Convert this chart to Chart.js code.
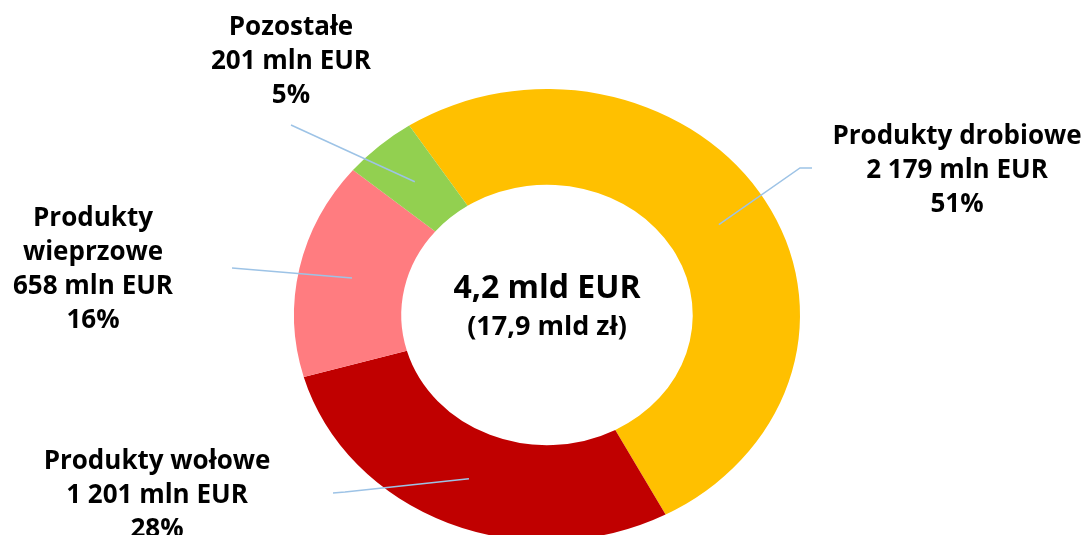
<!DOCTYPE html>
<html lang="pl">
<head>
<meta charset="utf-8">
<title>Eksport mięsa</title>
<script src="https://cdn.jsdelivr.net/npm/chart.js@4/dist/chart.umd.min.js"></script>
<style>
    html, body { margin: 0; padding: 0; background: #fff; }
    #wrap { width: 1086px; height: 535px; overflow: hidden; position: relative; }
</style>
</head>
<body>
<div id="wrap"><canvas id="myChart" width="1086" height="630"></canvas></div>
<script>
// dane
const categories = ['Produkty drobiowe', 'Produkty wołowe', 'Produkty wieprzowe', 'Pozostałe'];
const labelLines = [['Produkty drobiowe'], ['Produkty wołowe'], ['Produkty', 'wieprzowe'], ['Pozostałe']];
const values = [2179, 1201, 658, 201]; // mln EUR
const centerTitle = '4,2 mld EUR';
const centerSubtitle = '(17,9 mld zł)';

// wygląd
const sliceColors = ['#FFC000', '#C00000', '#FF7C80', '#92D050'];
const ySquash = 0.893; // wykres w oryginale jest lekko spłaszczony
// położenie etykiet (środek pierwszej linii) i początek linii odniesienia
const labelLayout = [
    { x: 957, y: 137, leader: [[812, 168], [800, 168]] },
    { x: 157, y: 462, leader: [[333, 493], [345, 492]] },
    { x: 93,  y: 219, leader: [[232, 268]] },
    { x: 291, y: 28,  leader: [[291, 125]] }
];
const lineHeight = 34;

const total = values.reduce((a, b) => a + b, 0);

function fmt(n) {
    return String(n).replace(/\B(?=(\d{3})+(?!\d))/g, ' ');
}

const squashPlugin = {
    id: 'squash',
    beforeDatasetsDraw(chart) {
        const arc = chart.getDatasetMeta(0).data[0];
        const ctx = chart.ctx;
        ctx.save();
        ctx.translate(0, arc.y);
        ctx.scale(1, ySquash);
        ctx.translate(0, -arc.y);
    },
    afterDatasetsDraw(chart) {
        chart.ctx.restore();
    }
};

const labelsPlugin = {
    id: 'sliceLabels',
    afterDraw(chart) {
        const ctx = chart.ctx;
        const meta = chart.getDatasetMeta(0);
        ctx.save();

        meta.data.forEach((arc, i) => {
            const p = arc.getProps(['x', 'y', 'startAngle', 'endAngle', 'innerRadius', 'outerRadius'], true);
            const mid = (p.startAngle + p.endAngle) / 2;
            const r = (p.innerRadius + p.outerRadius) / 2;
            const ex = p.x + Math.cos(mid) * r;
            const ey = p.y + Math.sin(mid) * r * ySquash;

            // linia odniesienia
            const lay = labelLayout[i];
            ctx.beginPath();
            ctx.strokeStyle = '#9DC3E6';
            ctx.lineWidth = 1.5;
            ctx.moveTo(lay.leader[0][0], lay.leader[0][1]);
            lay.leader.slice(1).forEach(pt => ctx.lineTo(pt[0], pt[1]));
            ctx.lineTo(ex, ey);
            ctx.stroke();

            // tekst
            const lines = labelLines[i].concat([
                fmt(values[i]) + ' mln EUR',
                Math.round(values[i] / total * 100) + '%'
            ]);
            ctx.fillStyle = '#000';
            ctx.font = 'bold 26px "Open Sans"';
            ctx.textAlign = 'center';
            ctx.textBaseline = 'middle';
            lines.forEach((t, k) => ctx.fillText(t, lay.x, lay.y + k * lineHeight));
        });

        // środek
        const c = meta.data[0];
        ctx.font = 'bold 32px "Open Sans"';
        ctx.fillText(centerTitle, c.x, c.y - 26);
        ctx.font = 'bold 27px "Open Sans"';
        ctx.fillText(centerSubtitle, c.x, c.y + 12);
        ctx.restore();
    }
};

new Chart(document.getElementById('myChart').getContext('2d'), {
    type: 'doughnut',
    data: {
        labels: categories,
        datasets: [{
            data: values,
            backgroundColor: sliceColors,
            borderWidth: 0,
            hoverOffset: 0
        }]
    },
    options: {
        responsive: false,
        animation: false,
        rotation: -33,
        cutout: '57.6%',
        layout: { padding: { left: 294, right: 286, top: 62, bottom: 62 } },
        plugins: {
            legend: { display: false },
            tooltip: { enabled: false }
        }
    },
    plugins: [squashPlugin, labelsPlugin]
});
</script>
</body>
</html>
